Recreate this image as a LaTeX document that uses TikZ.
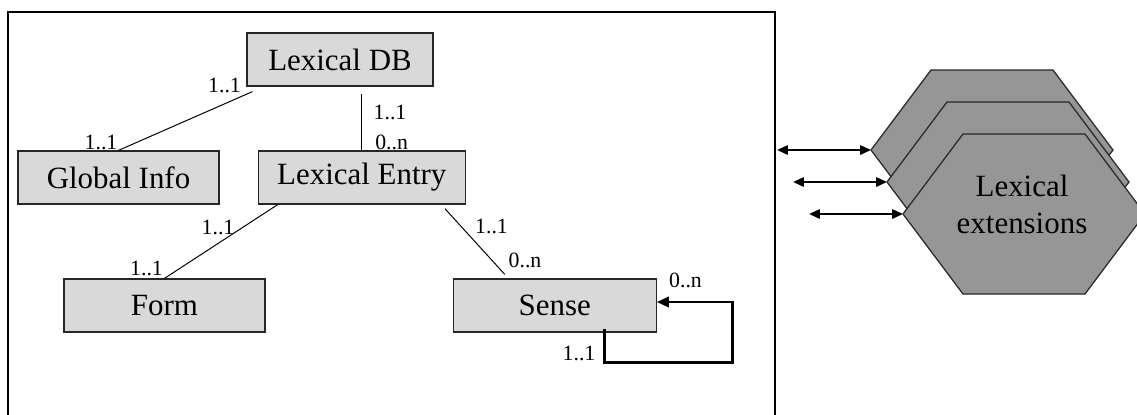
\documentclass[tikz,border=0pt]{standalone}
\usepackage{fontspec}
\setmainfont{Liberation Serif}
\usetikzlibrary{calc,arrows.meta,positioning}
\definecolor{boxgray}{RGB}{217,217,217}
\definecolor{extgray}{RGB}{150,150,150}

\begin{document}
\begin{tikzpicture}
	\tikzstyle{entity} = [draw=black!85, fill=boxgray, line width=0.9pt, minimum height=1.325cm, inner sep=0pt, font=\fontsize{22}{26}\selectfont]
	\tikzstyle{card} = [inner sep=0pt, font=\fontsize{15.5}{18}\selectfont]
	\tikzstyle{link} = [line width=0.7pt]
	\tikzstyle{selfref} = [line width=1.9pt, -{Triangle[length=0.3cm,width=0.26cm]}]
	\tikzstyle{extension} = [draw=black!85, fill=extgray, line width=0.9pt]
	\tikzstyle{plug} = [{Triangle[length=0.27cm,width=0.23cm]}-{Triangle[length=0.27cm,width=0.23cm]}, line width=1.7pt]

	\useasboundingbox (0,0) rectangle (28.425,-10.35);
	\clip (0,0) rectangle (28.425,-10.35);

	\draw[line width=1.2pt] (0.2,-10.6) rectangle (19.375,-0.3);

	\node[entity, minimum width=4.65cm] (LexDB) at (8.5,-1.4875) {Lexical DB};
	\node[entity, minimum width=5.025cm] (GlobalInfo) at (2.9625,-4.4375) {Global Info};
	\node[entity, minimum width=5.175cm, right=0.95cm of GlobalInfo] (LexEntry) {Lexical Entry};
	\node[entity, minimum width=5.025cm] (Form) at (4.1125,-7.6375) {Form};
	\node[entity, minimum width=5.075cm, right=4.675cm of Form] (Sense) {Sense};

	\draw[link] ([shift={(0.15,-0.125)}]LexDB.south west) -- (GlobalInfo.north);
	\draw[link] ($(LexDB.south -| LexEntry.north)+(0,-0.175)$) -- (LexEntry.north);
	\draw[link] ([xshift=0.5cm]LexEntry.south west) -- (Form.north);
	\draw[link] ([shift={(-0.525,-0.1)}]LexEntry.south east) -- ([shift={(-1.25,0.1)}]Sense.north);
	\draw[selfref] ([shift={(1.2375,0.1)}]Sense.south) -- ++(0,-0.85) -- ++(3.2,0) |- ([yshift=0.0875cm]Sense.east);

	\node[card] (DBtoGlobal) at (5.6125,-2.125) {1..1};
	\node[card] (GlobalFromDB) at (2.525,-3.55) {1..1};
	\node[card] (DBtoEntry) at (9.75,-2.8) {1..1};
	\node[card] (EntryFromDB) at (9.79,-3.55) {0..n};
	\node[card] (EntryToForm) at (5.45,-5.675) {1..1};
	\node[card] (FormFromEntry) at (3.6625,-6.7) {1..1};
	\node[card] (EntryToSense) at (12.2875,-5.65) {1..1};
	\node[card] (SenseFromEntry) at (13.125,-6.5) {0..n};
	\node[card] (SenseIn) at (17.1375,-7.0) {0..n};
	\node[card] (SenseOut) at (14.475,-8.825) {1..1};

	\foreach \i/\x/\y in {1/21.775/-3.75, 2/22.175/-4.55, 3/22.575/-5.35} {
		\coordinate (Hex\i) at (\x,\y);
		\draw[extension] (Hex\i) -- ++(1.5,2) -- ++(3.05,0) -- ++(1.5,-2) -- ++(-1.5,-2) -- ++(-3.05,0) -- cycle;
		\coordinate (Port\i) at ($(Hex\i)+(-2.35,0)$);
		\draw[plug] (Port\i) -- (Hex\i);
	}
	\node[align=center, font=\fontsize{22}{26.3}\selectfont] (ExtLabel) at (25.55,-5.1) {Lexical\\extensions};
\end{tikzpicture}
\end{document}
